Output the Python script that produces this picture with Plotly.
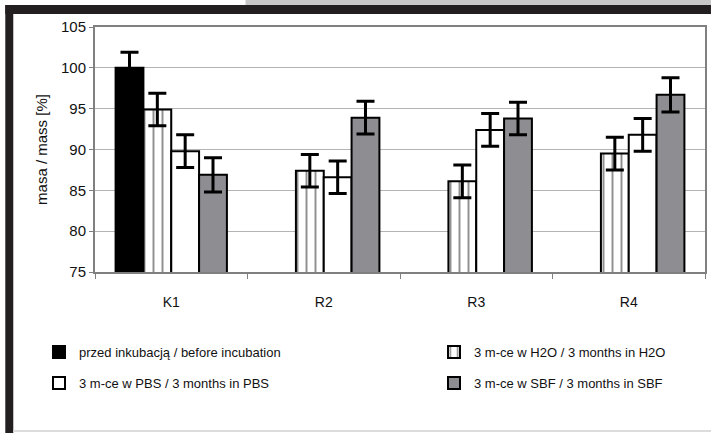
import plotly.graph_objects as go

categories = ["K1", "R2", "R3", "R4"]
before_vals = [100.0, None, None, None]
before_err = [1.9, None, None, None]
h2o_vals = [94.9, 87.4, 86.1, 89.5]
h2o_err = [2.0, 2.0, 2.0, 2.0]
pbs_vals = [89.8, 86.6, 92.4, 91.8]
pbs_err = [2.0, 2.0, 2.0, 2.0]
sbf_vals = [86.9, 93.9, 93.8, 96.7]
sbf_err = [2.1, 2.0, 2.0, 2.1]

names = [
    "przed inkubacją / before incubation",
    "3 m-ce w H2O / 3 months in H2O",
    "3 m-ce w PBS / 3 months in PBS",
    "3 m-ce w SBF / 3 months in SBF",
]

W, H = 713, 433
L, R, T, B = 95, 6, 27, 161

def err(arr):
    return dict(type="data", array=arr, visible=True, color="black", thickness=3, width=9)

line = dict(color="black", width=2)
fig = go.Figure()
fig.add_bar(x=categories, y=before_vals, name=names[0], error_y=err(before_err),
            marker=dict(color="black", line=line), legend="legend")
fig.add_bar(x=categories, y=h2o_vals, name=names[1], error_y=err(h2o_err),
            marker=dict(color="white", line=line,
                        pattern=dict(shape="|", fgcolor="#222222", bgcolor="white",
                                     size=9, solidity=0.22, fillmode="overlay")),
            legend="legend2")
fig.add_bar(x=categories, y=pbs_vals, name=names[2], error_y=err(pbs_err),
            marker=dict(color="white", line=line), legend="legend3")
fig.add_bar(x=categories, y=sbf_vals, name=names[3], error_y=err(sbf_err),
            marker=dict(color="#8d8d92", line=line), legend="legend4")

def px_x(p):
    return (p - L) / (W - L - R)

def px_y(p):
    return (H - B - p) / (H - T - B)

shapes = [
    dict(type="rect", xref="paper", yref="paper", x0=px_x(246), x1=px_x(713), y0=px_y(0), y1=px_y(5),
         fillcolor="#c8c8c8", line=dict(width=0), layer="above"),
    dict(type="rect", xref="paper", yref="paper", x0=px_x(5), x1=px_x(713), y0=px_y(5), y1=px_y(14),
         fillcolor="#231f20", line=dict(width=0), layer="above"),
    dict(type="rect", xref="paper", yref="paper", x0=px_x(5), x1=px_x(13), y0=px_y(5), y1=px_y(433),
         fillcolor="#231f20", line=dict(width=0), layer="above"),
    dict(type="line", xref="paper", yref="paper", x0=px_x(13), x1=px_x(713), y0=px_y(431), y1=px_y(431),
         line=dict(color="#dcdcdc", width=2), layer="above"),
]

legfont = dict(family="Liberation Sans Narrow, Liberation Sans", size=13, color="#111111")

def leg(xpx, ypx):
    return dict(orientation="h", xref="container", yref="container", x=xpx / W, y=1 - ypx / H,
                xanchor="left", yanchor="middle", font=legfont, itemwidth=30,
                bgcolor="rgba(0,0,0,0)")

fig.update_layout(
    width=W, height=H,
    margin=dict(l=L, r=R, t=T, b=B),
    paper_bgcolor="white", plot_bgcolor="white",
    barmode="group", bargap=0.27, bargroupgap=0,
    font=dict(family="Liberation Sans", size=15, color="#111111"),
    shapes=shapes,
    legend=leg(39, 352),
    legend2=leg(434, 352),
    legend3=leg(39, 383),
    legend4=leg(434, 383),
    showlegend=True,
)
fig.update_xaxes(showline=True, linecolor="#808080", linewidth=2, mirror=True,
                 ticks="outside", tickson="boundaries", ticklen=5, tickcolor="#808080",
                 ticklabelstandoff=16, showgrid=False, tickfont=dict(size=14))
fig.update_yaxes(range=[75, 105], dtick=5, showline=True, linecolor="#808080", linewidth=2,
                 mirror=True, ticks="outside", ticklen=4, tickcolor="#808080",
                 showgrid=True, gridcolor="#b4b4b4", gridwidth=1, zeroline=False,
                 tickfont=dict(size=15),
                 title=dict(text="masa / mass [%]", standoff=10, font=dict(size=15)))

fig.write_html("out.html")
